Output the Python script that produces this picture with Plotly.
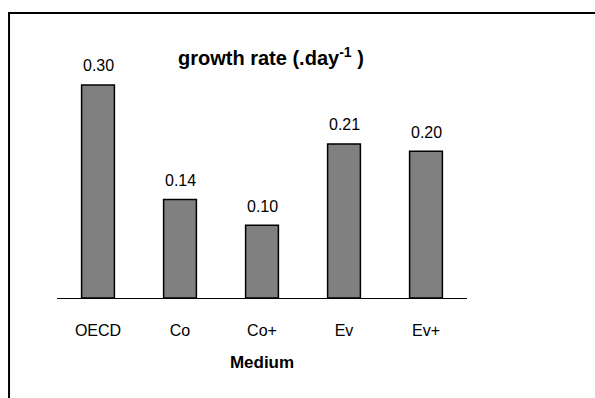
import plotly.graph_objects as go

categories = ["OECD", "Co", "Co+", "Ev", "Ev+"]
growth_rate = [0.296, 0.137, 0.101, 0.214, 0.204]
value_labels = ["0.30", "0.14", "0.10", "0.21", "0.20"]

FONT = "Liberation Sans, Arial, sans-serif"

fig = go.Figure()
fig.add_trace(go.Bar(
    x=categories, y=growth_rate, width=0.4,
    marker=dict(color="#808080", line=dict(color="black", width=1.5)),
    showlegend=False, hoverinfo="skip",
))

for c, v, t in zip(categories, growth_rate, value_labels):
    fig.add_annotation(x=c, y=v, text=t, showarrow=False, yanchor="middle",
                       yshift=19, font=dict(family=FONT, size=16, color="black"))

fig.add_annotation(xref="paper", yref="paper", x=0.522, y=0.972,
                   text="<b>growth rate (.day<sup>-1</sup> )</b>", showarrow=False,
                   yanchor="middle", font=dict(family=FONT, size=20, color="black"))

# outer frame
fig.add_shape(type="path", xref="paper", yref="paper",
              path="M -0.117,-1 L -0.117,1.149 L 2,1.149",
              line=dict(color="black", width=2))

fig.update_layout(
    width=595, height=398,
    margin=dict(l=57, r=128, t=50, b=100),
    paper_bgcolor="white", plot_bgcolor="white",
    font=dict(family=FONT, color="black"),
    xaxis=dict(showline=True, linecolor="black", linewidth=1.3, showgrid=False,
               ticks="outside", ticklen=18, tickcolor="rgba(0,0,0,0)",
               tickfont=dict(size=16), range=[-0.5, 4.5],
               title=dict(text="<b>Medium</b>", font=dict(size=17), standoff=17)),
    yaxis=dict(visible=False, range=[0, 0.3446]),
)

fig.write_html("out.html", config={"displayModeBar": False},
               post_script="document.body.style.margin='0px';document.body.style.overflow='hidden';")
